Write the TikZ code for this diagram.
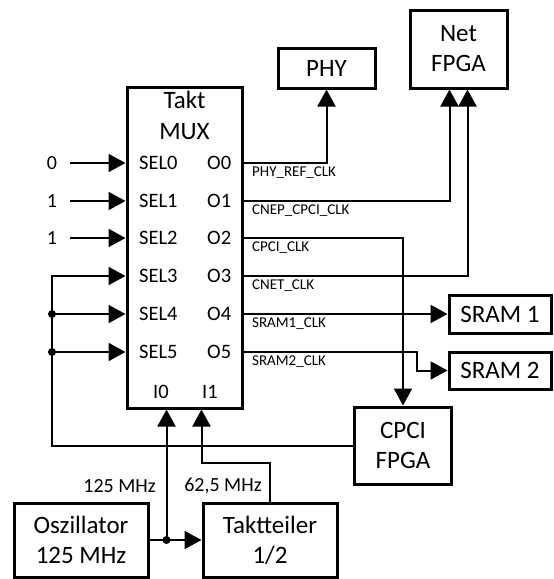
\documentclass[tikz,border=0pt]{standalone}
\usepackage{fontspec}
\setmainfont{Carlito}
\usetikzlibrary{arrows.meta}

\begin{document}
\begin{tikzpicture}[x=1pt, y=-1pt, >={Triangle[length=17pt,width=18pt]},
    box/.style={draw, line width=3pt, align=center, inner sep=0pt, font=\fontsize{25}{30}\selectfont},
    wire/.style={line width=2pt},
    pin/.style={anchor=west, inner sep=0pt, font=\fontsize{20.5}{24}\selectfont},
    sig/.style={anchor=north west, inner sep=0pt, font=\fontsize{15}{17}\selectfont},
    val/.style={inner sep=0pt, font=\fontsize{20}{24}\selectfont},
    dot/.style={circle, fill, inner sep=0pt, minimum size=8pt}]
    \useasboundingbox (0,0) rectangle (554,579);

    % Takt-MUX
    \node[box, minimum width=115, minimum height=321] (mux) at (184.5,247.5) {};
    \node[inner sep=0pt, font=\fontsize{25}{30}\selectfont] (takt) at (184.5,100) {Takt};
    \node[inner sep=0pt, font=\fontsize{25}{30}\selectfont] (muxname) at (184.5,132) {MUX};

    \node[pin] (sel0) at (139,163) {SEL0};
    \node[pin] (sel1) at (139,201) {SEL1};
    \node[pin] (sel2) at (139,238) {SEL2};
    \node[pin] (sel3) at (139,276) {SEL3};
    \node[pin] (sel4) at (139,314) {SEL4};
    \node[pin] (sel5) at (139,352) {SEL5};

    \node[pin] (o0) at (207,163) {O0};
    \node[pin] (o1) at (207,201) {O1};
    \node[pin] (o2) at (207,238) {O2};
    \node[pin] (o3) at (207,276) {O3};
    \node[pin] (o4) at (207,314) {O4};
    \node[pin] (o5) at (207,352) {O5};

    \node[pin, anchor=center] (i0) at (161,392) {I0};
    \node[pin, anchor=center] (i1) at (210,392) {I1};

    % Bausteine
    \node[box, minimum width=97, minimum height=40] (phy) at (326.5,68) {PHY};
    \node[box, minimum width=97, minimum height=78] (net) at (458.5,49) {Net\\FPGA};
    \node[box, minimum width=102, minimum height=38] (sram1) at (500,314) {SRAM 1};
    \node[box, minimum width=102, minimum height=37] (sram2) at (500,370.5) {SRAM 2};
    \node[box, minimum width=97, minimum height=77] (cpci) at (403,445.5) {CPCI\\FPGA};
    \node[box, minimum width=134, minimum height=74] (osc) at (81,540) {Oszillator\\125 MHz};
    \node[box, minimum width=134, minimum height=74] (teiler) at (270,540) {Taktteiler\\1/2};

    % Eingaenge
    \node[val] (in0) at (52,163) {0};
    \node[val] (in1) at (52,201) {1};
    \node[val] (in2) at (52,238) {1};
    \draw[wire,->] (in0.east) ++(13,0) -- (mux.west |- sel0);
    \draw[wire,->] (in1.east) ++(13,0) -- (mux.west |- sel1);
    \draw[wire,->] (in2.east) ++(13,0) -- (mux.west |- sel2);

    \coordinate (bus) at (52,276);
    \draw[wire,->] (cpci.west) -| (bus) -- (mux.west |- sel3);
    \draw[wire,->] (bus |- sel4) -- (mux.west |- sel4);
    \draw[wire,->] (bus |- sel5) -- (mux.west |- sel5);
    \node[dot] (d4) at (bus |- sel4) {};
    \node[dot] (d5) at (bus |- sel5) {};

    % Ausgaenge
    \draw[wire,->] (mux.east |- o0) -| (phy.south);
    \draw[wire,->] (mux.east |- o1) -| ([xshift=-9]net.south);
    \draw[wire,->] (mux.east |- o2) -| (cpci.north);
    \draw[wire,->] (mux.east |- o3) -| ([xshift=9]net.south);
    \draw[wire,->] (mux.east |- o4) -- (sram1.west);
    \draw[wire,->] (mux.east |- o5) -- ++(173,0) |- (sram2.west);

    \node[sig] (s0) at (252,167) {PHY\_REF\_CLK};
    \node[sig] (s1) at (252,205) {CNEP\_CPCI\_CLK};
    \node[sig] (s2) at (252,242) {CPCI\_CLK};
    \node[sig] (s3) at (252,280) {CNET\_CLK};
    \node[sig] (s4) at (252,318) {SRAM1\_CLK};
    \node[sig] (s5) at (252,356) {SRAM2\_CLK};

    % Takt
    \coordinate (split) at ([xshift=17]osc.east);
    \draw[wire,->] (osc.east) -- (teiler.west);
    \draw[wire,->] (split) -- (split |- mux.south);
    \node[dot] (ds) at (split) {};
    \draw[wire,->] (teiler.north) -- ++(0,-39) -| (teiler.west |- mux.south);

    \node[val, anchor=east] (f0) at (156,486) {125 MHz};
    \node[val] (f1) at (223,486) {62,5 MHz};
\end{tikzpicture}
\end{document}
